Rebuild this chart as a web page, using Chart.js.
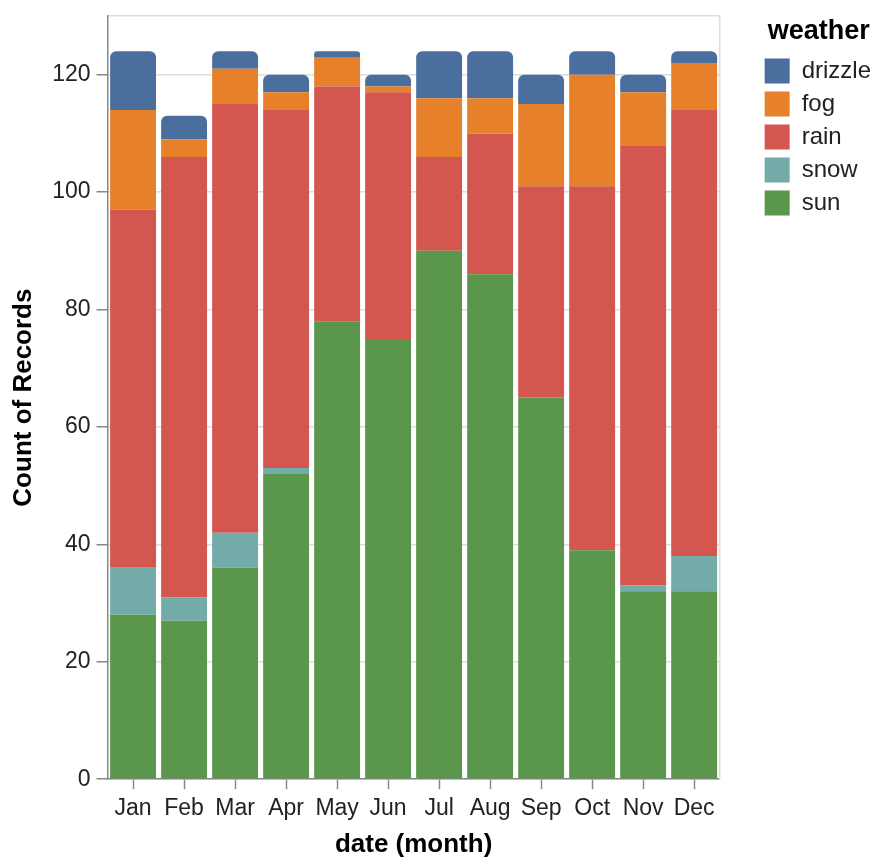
<!DOCTYPE html>
<html>
<head>
<meta charset="utf-8">
<script src="https://cdn.jsdelivr.net/npm/chart.js@4/dist/chart.umd.min.js"></script>
<style>
  html, body { margin: 0; padding: 0; background: #fff; }
  #wrap { width: 881px; height: 860px; }
</style>
</head>
<body>
<div id="wrap"><canvas id="chart" width="881" height="860"></canvas></div>
<script>
const months = ['Jan', 'Feb', 'Mar', 'Apr', 'May', 'Jun', 'Jul', 'Aug', 'Sep', 'Oct', 'Nov', 'Dec'];

// counts per month
const sun     = [28, 27, 36, 52, 78, 75, 90, 86, 65, 39, 32, 32];
const snow    = [ 8,  4,  6,  1,  0,  0,  0,  0,  0,  0,  1,  6];
const rain    = [61, 75, 73, 61, 40, 42, 16, 24, 36, 62, 75, 76];
const fog     = [17,  3,  6,  3,  5,  1, 10,  6, 14, 19,  9,  8];
const drizzle = [10,  4,  3,  3,  1,  2,  8,  8,  5,  4,  3,  2];

const yTicks = [0, 20, 40, 60, 80, 100, 120];

const colors = {
    drizzle: '#4a6f9e',
    fog: '#e6802b',
    rain: '#d3564f',
    snow: '#72aba8',
    sun: '#5a964b'
};

const font = '"Liberation Sans", Arial, Helvetica, sans-serif';

// light frame on the right edge of the plot, like the vega view stroke
const frame = {
    id: 'frame',
    beforeDatasetsDraw(chart) {
        const { ctx, chartArea } = chart;
        ctx.save();
        ctx.strokeStyle = '#dddddd';
        ctx.lineWidth = 1.5;
        ctx.beginPath();
        ctx.moveTo(chartArea.right, chartArea.top);
        ctx.lineTo(chartArea.right, chartArea.bottom);
        ctx.stroke();
        ctx.restore();
    }
};

function ds(label, data, radius) {
    return {
        label: label,
        data: data,
        backgroundColor: colors[label],
        borderWidth: 0,
        borderRadius: radius ? { topLeft: 6, topRight: 6, bottomLeft: 0, bottomRight: 0 } : 0,
        borderSkipped: false,
        barPercentage: 0.9,
        categoryPercentage: 1.0
    };
}

new Chart(document.querySelector('#chart').getContext('2d'), {
    type: 'bar',
    data: {
        labels: months,
        datasets: [
            ds('sun', sun),
            ds('snow', snow),
            ds('rain', rain),
            ds('fog', fog),
            ds('drizzle', drizzle, true)
        ]
    },
    options: {
        responsive: false,
        animation: false,
        layout: { autoPadding: false, padding: { left: 8, top: 16, right: 0, bottom: 0 } },
        plugins: {
            tooltip: { enabled: false },
            legend: {
                position: 'right',
                align: 'start',
                reverse: true,
                title: {
                    display: true,
                    text: 'weather',
                    color: '#000',
                    font: { family: font, size: 27, weight: 'bold' },
                    padding: { top: 2, bottom: 0 },
                    position: 'center'
                },
                labels: {
                    boxWidth: 25,
                    boxHeight: 25,
                    padding: 8,
                    color: '#222',
                    font: { family: font, size: 24 }
                }
            }
        },
        scales: {
            x: {
                stacked: true,
                offset: true,
                grid: {
                    offset: false,
                    drawOnChartArea: false,
                    drawTicks: true,
                    tickLength: 10,
                    tickColor: '#888',
                    tickWidth: 1.5
                },
                border: { color: '#888', width: 1.5 },
                ticks: {
                    color: '#222',
                    font: { family: font, size: 23 },
                    padding: 6,
                    maxRotation: 0,
                    autoSkip: false
                },
                title: {
                    display: true,
                    text: 'date (month)',
                    color: '#000',
                    font: { family: font, size: 26, weight: 'bold' },
                    padding: { top: 0, bottom: 0 }
                }
            },
            y: {
                stacked: true,
                min: 0,
                max: 130,
                afterBuildTicks(axis) {
                    axis.ticks = yTicks.concat([130]).map(v => ({ value: v }));
                },
                afterFit(scale) {
                    scale.paddingTop = 0;
                    scale.paddingBottom = 0;
                },
                grid: {
                    color: '#dddddd',
                    lineWidth: 1.5,
                    tickLength: 11,
                    tickWidth: 1.5,
                    tickColor: c => (c.tick && c.tick.value === 130 ? 'rgba(0,0,0,0)' : '#888')
                },
                border: { color: '#888', width: 1.5 },
                ticks: {
                    color: '#222',
                    font: { family: font, size: 23 },
                    padding: 6,
                    callback: v => (yTicks.includes(v) ? v : '')
                },
                title: {
                    display: true,
                    text: 'Count of Records',
                    color: '#000',
                    font: { family: font, size: 26, weight: 'bold' },
                    padding: { top: 0, bottom: 7 }
                }
            },
            // empty axis that only keeps a gap between the plot and the legend
            gap: {
                type: 'linear',
                position: 'right',
                display: true,
                grid: { display: false },
                border: { display: false },
                ticks: { display: false },
                afterFit(scale) {
                    scale.width = 37;
                    scale.paddingTop = 0;
                    scale.paddingBottom = 0;
                }
            }
        }
    },
    plugins: [frame]
});
</script>
</body>
</html>
